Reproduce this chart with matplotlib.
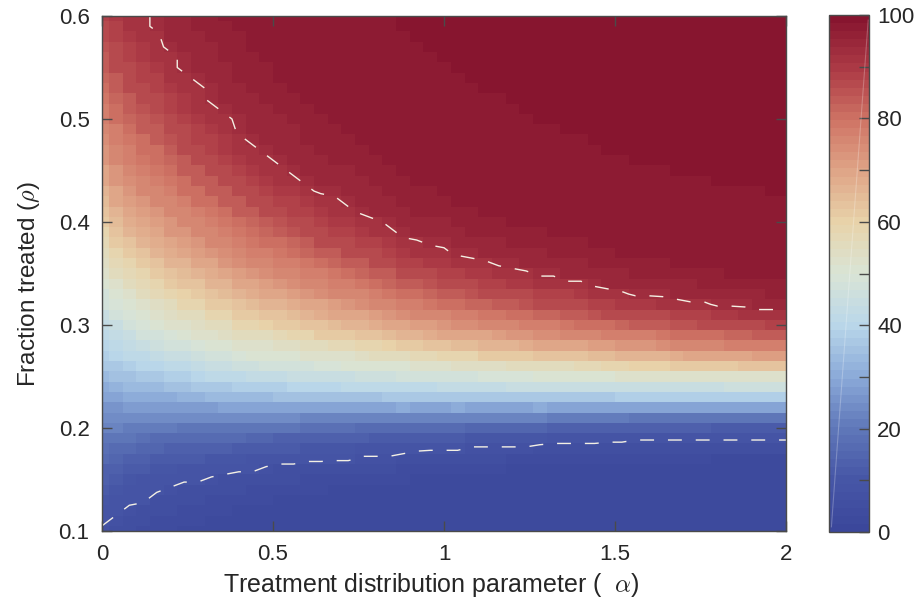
import matplotlib
matplotlib.use("Agg")
import matplotlib.pyplot as plt
import numpy as np
from matplotlib.colors import LinearSegmentedColormap
from matplotlib.ticker import FixedLocator

# grid: alpha 0..2 step 0.04 (columns), rho 0.10..0.60 step 0.01 (rows)
alpha = np.linspace(0, 2, 51)
rho = np.linspace(0.1, 0.6, 51)

# percentage for each alpha column, listed from rho = 0.10 up to rho = 0.60
a0_00 = [7,8,9,10,11,13,14,16,18,20,22,24,26,29,31,34,36,38,40,42,43,45,47,48,50,52,54,55,57,59,61,63,65,67,69,70,72,73,74,76,77,78,79,80,82,83,84,85,86,87,88]
a0_04 = [6,7,8,9,10,11,13,15,17,19,22,24,26,29,32,35,37,40,42,43,45,47,49,51,53,55,57,59,61,63,65,67,69,70,72,73,75,76,77,78,80,81,82,83,84,86,86,87,88,89,90]
a0_08 = [5,6,7,8,9,10,12,14,16,19,21,24,27,30,33,35,38,41,43,45,47,49,51,53,55,57,59,62,64,66,68,69,71,73,74,75,77,78,79,81,82,83,84,86,87,87,88,89,90,91,91]
a0_12 = [4,5,6,8,8,9,11,13,15,18,21,24,27,30,33,36,40,42,44,47,49,51,53,55,57,59,62,64,66,68,70,71,73,75,76,77,79,80,81,83,84,85,86,87,88,89,90,90,91,92,92]
a0_16 = [4,4,5,6,8,9,10,12,15,17,21,24,27,31,34,37,40,43,46,48,50,53,54,57,59,61,64,66,68,70,71,73,75,76,77,79,80,81,83,84,85,86,87,88,89,90,91,92,92,93,93]
a0_20 = [4,4,5,6,7,9,10,12,14,17,21,24,27,31,35,38,41,44,47,49,52,54,56,59,61,64,66,68,70,72,73,75,76,78,79,81,82,84,85,86,87,88,89,90,91,92,92,93,94,94,95]
a0_24 = [3,4,4,5,6,8,9,11,14,17,20,24,28,32,35,39,42,45,48,51,53,55,58,60,63,65,67,70,71,73,75,76,78,80,81,83,84,86,87,87,89,90,90,91,92,93,93,94,95,95,95]
a0_28 = [3,4,4,5,6,8,9,11,13,17,20,24,28,32,36,40,43,46,49,52,54,56,59,62,64,67,69,71,73,75,76,78,80,81,83,84,86,87,88,89,90,91,92,92,93,94,94,95,95,96,96]
a0_32 = [3,3,4,4,5,7,9,10,13,16,20,24,28,33,37,41,44,47,50,53,55,58,61,64,66,68,70,73,75,76,78,79,81,83,84,86,87,88,89,90,91,92,93,93,94,95,95,95,96,96,96]
a0_36 = [3,3,4,4,5,6,9,10,13,16,20,24,29,33,37,42,45,48,51,54,56,59,62,65,67,70,72,74,76,78,79,81,83,84,86,87,88,90,90,91,92,93,94,94,95,95,96,96,96,96,97]
a0_40 = [3,3,3,4,5,6,8,10,12,16,20,24,29,34,38,42,46,49,52,55,58,61,64,66,69,71,74,75,77,79,81,83,84,86,87,88,90,91,92,93,93,94,95,95,96,96,96,96,96,97,97]
a0_44 = [3,3,3,4,4,6,8,9,12,15,20,24,29,34,38,43,46,50,53,55,59,62,65,68,70,73,75,77,79,81,82,84,86,87,89,90,91,92,93,94,94,95,95,96,96,96,96,97,97,97,97]
a0_48 = [3,3,3,4,4,5,7,9,11,15,19,24,29,34,39,43,47,50,53,56,60,63,66,69,71,74,76,78,80,82,84,86,87,88,90,91,92,93,94,94,95,95,96,96,96,96,97,97,97,97,97]
a0_52 = [3,3,3,3,4,5,6,9,11,14,19,24,29,35,39,43,47,51,54,57,61,64,67,70,73,75,77,79,81,83,85,87,88,90,91,92,93,94,94,95,95,96,96,96,97,97,97,97,97,97,97]
a0_56 = [3,3,3,3,4,5,6,9,11,14,19,24,29,35,40,44,48,51,54,58,62,65,68,71,74,76,78,80,82,85,86,88,89,90,92,93,94,94,95,95,96,96,96,97,97,97,97,97,97,97,98]
a0_60 = [2,3,3,3,4,4,6,8,10,14,18,23,29,35,40,44,48,52,55,59,63,66,70,72,75,77,79,82,84,86,87,89,90,92,93,94,94,95,96,96,96,96,97,97,97,97,97,97,98,98,98]
a0_64 = [2,3,3,3,4,4,6,8,10,14,18,23,29,35,40,45,49,52,56,61,64,68,70,74,76,78,81,83,86,87,89,90,91,93,94,94,95,96,96,96,96,97,97,97,97,97,97,98,98,98,98]
a0_68 = [2,3,3,3,3,4,5,8,10,13,18,23,29,35,40,45,49,53,57,61,65,69,71,75,77,79,82,84,86,88,90,91,92,93,94,95,96,96,96,96,97,97,97,97,97,98,98,98,98,98,98]
a0_72 = [2,2,3,3,3,4,5,8,10,13,18,23,29,35,41,45,50,53,57,62,66,69,73,75,78,81,83,86,87,89,90,92,93,94,95,95,96,96,96,97,97,97,97,97,98,98,98,98,98,98,98]
a0_76 = [2,2,3,3,3,4,5,7,9,13,17,23,29,35,41,46,50,54,58,63,67,70,74,76,79,82,84,86,88,90,91,93,94,95,95,96,96,96,97,97,97,97,97,98,98,98,98,98,98,98,98]
a0_80 = [2,2,3,3,3,4,5,7,9,12,17,23,29,35,41,46,50,55,59,64,68,71,75,77,80,83,86,87,89,91,92,94,95,95,96,96,96,97,97,97,97,97,98,98,98,98,98,98,98,98,98]
a0_84 = [2,2,3,3,3,4,5,7,9,12,17,23,29,36,42,46,51,55,60,65,69,73,76,79,82,84,87,89,90,92,93,94,95,96,96,96,97,97,97,97,97,98,98,98,98,98,98,98,98,98,98]
a0_88 = [2,2,3,3,3,4,4,6,9,12,17,23,30,36,42,47,51,56,61,66,70,74,77,80,83,86,88,90,92,93,94,95,96,96,96,97,97,97,97,98,98,98,98,98,98,98,98,98,98,99,99]
a0_92 = [2,2,2,3,3,3,4,6,8,12,16,23,29,36,42,47,52,57,62,67,71,75,78,81,84,87,89,91,92,94,95,96,96,96,97,97,97,97,98,98,98,98,98,98,98,98,98,98,99,99,99]
a0_96 = [2,2,2,3,3,3,4,5,8,11,16,22,29,36,42,47,52,57,63,68,71,75,79,82,85,87,90,91,93,94,95,96,96,96,97,97,97,97,98,98,98,98,98,98,98,98,98,99,99,99,99]
a1_00 = [2,2,2,3,3,3,4,5,8,11,16,22,29,36,43,48,53,58,64,69,73,76,80,83,86,88,90,92,93,95,95,96,96,97,97,97,97,98,98,98,98,98,98,98,98,98,99,99,99,99,99]
a1_04 = [2,2,2,2,3,3,4,5,8,11,16,22,30,37,43,48,54,59,65,70,74,77,81,84,87,89,91,93,94,95,96,96,97,97,97,97,97,98,98,98,98,98,98,98,98,99,99,99,99,99,99]
a1_08 = [2,2,2,2,3,3,4,5,7,10,15,22,29,36,43,48,54,59,65,70,74,78,82,85,87,90,92,93,95,96,96,96,97,97,97,97,98,98,98,98,98,98,98,98,99,99,99,99,99,99,99]
a1_12 = [2,2,2,2,2,3,4,5,7,10,15,22,29,37,43,49,54,61,66,70,75,79,82,86,88,90,92,94,95,96,96,97,97,97,97,98,98,98,98,98,98,98,98,99,99,99,99,99,99,99,99]
a1_16 = [2,2,2,2,2,3,4,5,7,10,15,22,29,37,43,49,54,61,67,71,76,79,83,86,89,91,93,94,95,96,96,97,97,97,98,98,98,98,98,98,98,98,98,99,99,99,99,99,99,99,99]
a1_20 = [2,2,2,2,2,3,3,4,7,10,15,22,29,37,44,49,55,62,67,72,76,80,84,87,90,92,93,95,96,96,97,97,97,97,98,98,98,98,98,98,98,98,99,99,99,99,99,99,99,99,99]
a1_24 = [2,2,2,2,2,3,3,4,7,10,15,22,29,37,44,49,55,62,68,73,77,81,85,87,90,92,94,95,96,96,97,97,97,98,98,98,98,98,98,98,98,99,99,99,99,99,99,99,99,99,99]
a1_28 = [2,2,2,2,2,3,3,4,6,10,15,22,30,37,44,50,56,63,69,74,78,82,86,88,91,93,94,95,96,96,97,97,97,98,98,98,98,98,98,98,99,99,99,99,99,99,99,99,99,99,99]
a1_32 = [2,2,2,2,2,3,3,4,6,9,14,21,29,37,44,50,56,63,69,74,78,82,86,89,91,93,95,96,96,97,97,97,97,98,98,98,98,98,98,98,99,99,99,99,99,99,99,99,99,99,99]
a1_36 = [2,2,2,2,2,3,3,4,6,9,14,21,29,37,44,50,56,63,70,75,79,83,87,89,92,94,95,96,96,97,97,97,98,98,98,98,98,98,98,99,99,99,99,99,99,99,99,99,99,99,99]
a1_40 = [2,2,2,2,2,3,3,4,6,9,14,21,29,37,45,51,57,64,70,75,80,84,87,90,92,94,95,96,96,97,97,97,98,98,98,98,98,98,98,99,99,99,99,99,99,99,99,99,99,99,99]
a1_44 = [2,2,2,2,2,3,3,4,6,9,14,21,29,37,45,51,57,65,71,76,80,85,88,91,93,95,96,96,97,97,97,98,98,98,98,98,98,98,99,99,99,99,99,99,99,99,99,99,99,99,99]
a1_48 = [2,2,2,2,2,3,3,4,5,9,13,21,29,37,44,51,58,65,71,77,81,86,89,91,94,95,96,96,97,97,97,98,98,98,98,98,98,99,99,99,99,99,99,99,99,99,99,99,99,99,99]
a1_52 = [2,2,2,2,2,3,3,4,5,9,13,21,29,38,45,52,59,66,73,78,82,86,90,92,94,95,96,97,97,97,98,98,98,98,98,98,98,99,99,99,99,99,99,99,99,99,99,99,99,99,99]
a1_56 = [2,2,2,2,2,2,3,4,5,8,13,20,29,38,45,52,60,67,73,78,83,87,90,93,94,96,96,97,97,97,98,98,98,98,98,98,99,99,99,99,99,99,99,99,99,99,99,99,99,99,99]
a1_60 = [2,2,2,2,2,2,3,4,5,8,13,20,29,38,45,52,60,67,73,78,83,87,90,93,95,96,96,97,97,97,98,98,98,98,98,98,99,99,99,99,99,99,99,99,99,99,99,99,99,99,99]
a1_64 = [2,2,2,2,2,2,3,4,5,8,13,20,29,38,45,52,60,67,74,79,84,87,91,93,95,96,96,97,97,98,98,98,98,98,98,98,99,99,99,99,99,99,99,99,99,99,99,99,99,99,99]
a1_68 = [2,2,2,2,2,2,3,4,5,8,13,20,29,38,45,53,61,68,75,80,85,88,91,94,95,96,97,97,97,98,98,98,98,98,98,99,99,99,99,99,99,99,99,99,99,99,99,99,99,99,99]
a1_72 = [2,2,2,2,2,2,3,4,5,8,13,20,29,38,45,53,61,69,75,80,85,89,92,94,95,96,97,97,97,98,98,98,98,98,98,99,99,99,99,99,99,99,99,99,99,99,99,99,99,99,99]
a1_76 = [2,2,2,2,2,2,3,4,5,8,13,20,29,38,45,53,62,69,75,81,86,89,92,94,96,96,97,97,98,98,98,98,98,98,98,99,99,99,99,99,99,99,99,99,99,99,99,99,99,99,99]
a1_80 = [2,2,2,2,2,2,3,3,5,8,12,20,29,38,45,53,62,70,76,81,86,90,93,95,96,96,97,97,98,98,98,98,98,98,99,99,99,99,99,99,99,99,99,99,99,99,99,99,99,99,99]
a1_84 = [2,2,2,2,2,2,3,3,5,8,12,20,29,38,46,53,62,70,77,82,87,90,93,95,96,97,97,97,98,98,98,98,98,98,99,99,99,99,99,99,99,99,99,99,99,99,99,99,99,99,99]
a1_88 = [2,2,2,2,2,2,3,3,5,8,12,20,29,38,46,53,63,70,77,82,87,91,93,95,96,97,97,97,98,98,98,98,98,98,99,99,99,99,99,99,99,99,99,99,99,99,99,99,99,99,99]
a1_92 = [2,2,2,2,2,2,3,3,5,8,12,20,29,38,46,53,63,71,77,83,87,91,94,95,96,97,97,98,98,98,98,98,98,98,99,99,99,99,99,99,99,99,99,99,99,99,99,99,99,99,99]
a1_96 = [2,2,2,2,2,2,3,3,5,8,12,20,29,38,46,53,63,71,77,83,88,91,94,96,96,97,97,98,98,98,98,98,98,99,99,99,99,99,99,99,99,99,99,99,99,99,99,99,99,99,99]
a2_00 = [2,2,2,2,2,2,3,3,5,8,12,20,29,38,46,53,63,71,78,84,88,92,94,96,96,97,97,98,98,98,98,98,98,99,99,99,99,99,99,99,99,99,99,99,99,99,99,99,99,99,99]

columns = [a0_00, a0_04, a0_08, a0_12, a0_16, a0_20, a0_24, a0_28, a0_32, a0_36,
           a0_40, a0_44, a0_48, a0_52, a0_56, a0_60, a0_64, a0_68, a0_72, a0_76,
           a0_80, a0_84, a0_88, a0_92, a0_96, a1_00, a1_04, a1_08, a1_12, a1_16,
           a1_20, a1_24, a1_28, a1_32, a1_36, a1_40, a1_44, a1_48, a1_52, a1_56,
           a1_60, a1_64, a1_68, a1_72, a1_76, a1_80, a1_84, a1_88, a1_92, a1_96,
           a2_00]

contour_levels = [7.5, 92.5]
cbar_ticks = [0, 20, 40, 60, 80, 100]
cbar_minor = [10, 30, 50, 70, 90]

# blue -> pale -> red map sampled every 10 %
cmap_colors = ["#3b479b", "#4757a7", "#6079ba", "#8cabd9", "#bad7ea", "#d9e4d5",
               "#e8d3aa", "#dfa587", "#cf7465", "#ad3b46", "#87152f"]
cmap = LinearSegmentedColormap.from_list("rdylbu_soft", cmap_colors, N=64)

plt.rcParams['font.family'] = ['Liberation Sans', 'DejaVu Sans']
plt.rcParams['mathtext.fontset'] = 'cm'
plt.rcParams['lines.dashed_pattern'] = [10, 10]
txt = '#262626'
edge = '#4a4a4a'

Z = np.array(columns).T  # rows = rho, cols = alpha

fig = plt.figure(figsize=(9.16, 6.11), dpi=100)
ax = fig.add_axes([102/916, 80/611, 684/916, 515/611])
cax = fig.add_axes([829/916, 79/611, 40/916, 517/611])

mesh = ax.pcolormesh(alpha, rho, Z, shading='nearest', cmap=cmap, vmin=0, vmax=100,
                     edgecolors='none', antialiased=False)
ax.contour(alpha, rho, Z, levels=contour_levels, colors='#f4f0e4',
           linewidths=1.0, linestyles='dashed')

ax.set_xlim(0, 2)
ax.set_ylim(0.1, 0.6)
ax.set_xticks([0, 0.5, 1, 1.5, 2])
ax.set_xticklabels(['0', '0.5', '1', '1.5', '2'])
ax.set_yticks([0.1, 0.2, 0.3, 0.4, 0.5, 0.6])
ax.set_yticklabels(['0.1', '0.2', '0.3', '0.4', '0.5', '0.6'])
ax.tick_params(direction='in', length=7, width=1, top=True, right=True,
               labelsize=16, colors=edge, labelcolor=txt)
ax.tick_params(axis='x', pad=9)
ax.tick_params(axis='y', pad=9)
for s in ax.spines.values():
    s.set_color(edge)
    s.set_linewidth(1.0)

ax.set_xlabel(r'Treatment distribution parameter (  $\alpha$)', fontsize=18, color=txt)
ax.xaxis.set_label_coords(0.482, -0.077)
ax.set_ylabel(r'Fraction treated ($\rho$)', fontsize=17.5, color=txt)
ax.yaxis.set_label_coords(-0.087, 0.48)

cb = fig.colorbar(mesh, cax=cax, ticks=cbar_ticks)
cb.outline.set_edgecolor(edge)
cb.outline.set_linewidth(1.0)
cax.yaxis.set_minor_locator(FixedLocator(cbar_minor))
cax.tick_params(which='both', direction='in', length=7, width=1, colors=edge,
                labelsize=16, labelcolor=txt, pad=6)
# faint streak across the colour bar
cax.plot([0.06, 0.98], [0.01, 0.99], transform=cax.transAxes, color='white',
         alpha=0.25, lw=0.8)

fig.savefig('out.png', dpi=100)
